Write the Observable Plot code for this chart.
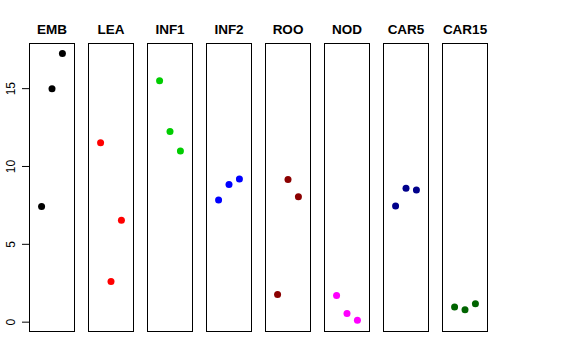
<!DOCTYPE html>
<html><head><meta charset="utf-8">
<script src="https://cdn.jsdelivr.net/npm/d3@7"></script>
<script src="https://cdn.jsdelivr.net/npm/@observablehq/plot@0.6"></script>
<style>body{margin:0;background:#fff;font-family:"Liberation Sans",Arial,sans-serif;}</style>
</head><body><div id="chart"></div>
<script>
const panels = ["EMB","LEA","INF1","INF2","ROO","NOD","CAR5","CAR15"];
const colors = ["black","red","#00CD00","blue","#8B0000","magenta","#00008B","#006400"];
const positions = [1, 2, 3];
const EMB = [7.43, 15.0, 17.26];
const LEA = [11.53, 2.61, 6.55];
const INF1 = [15.5, 12.24, 10.99];
const INF2 = [7.85, 8.84, 9.2];
const ROO = [1.77, 9.16, 8.06];
const NOD = [1.71, 0.56, 0.13];
const CAR5 = [7.46, 8.6, 8.49];
const CAR15 = [0.97, 0.8, 1.19];
const yTicks = [0, 5, 10, 15];

const series = [EMB, LEA, INF1, INF2, ROO, NOD, CAR5, CAR15];
const data = [];
panels.forEach((p, i) => series[i].forEach((v, j) => data.push({panel: p, x: positions[j], y: v, color: colors[i]})));

const chart = Plot.plot({
  width: 576, height: 360,
  marginLeft: 29, marginRight: 88, marginTop: 43, marginBottom: 29,
  style: {fontFamily: "'Liberation Sans', Arial, sans-serif", fontSize: "12px"},
  fx: {domain: panels, paddingInner: 0.237, paddingOuter: 0, label: null},
  x: {domain: [-0.16, 4.16], axis: null},
  y: {domain: [-0.6, 17.9], label: null},
  color: {type: "identity"},
  marks: [
    Plot.frame({stroke: "black", strokeWidth: 1}),
    Plot.axisFx({anchor: "top", tickSize: 0, tickPadding: 10, fontWeight: "bold", fontSize: 13.5, label: null}),
    Plot.axisY(yTicks, {anchor: "left", tickSize: 7, tickPadding: 8, tickRotate: -90, fontSize: 12, label: null}),
    Plot.dot(data, {fx: "panel", x: "x", y: "y", fill: "color", r: 3.5, stroke: null})
  ]
});
document.getElementById("chart").appendChild(chart);
</script></body></html>
